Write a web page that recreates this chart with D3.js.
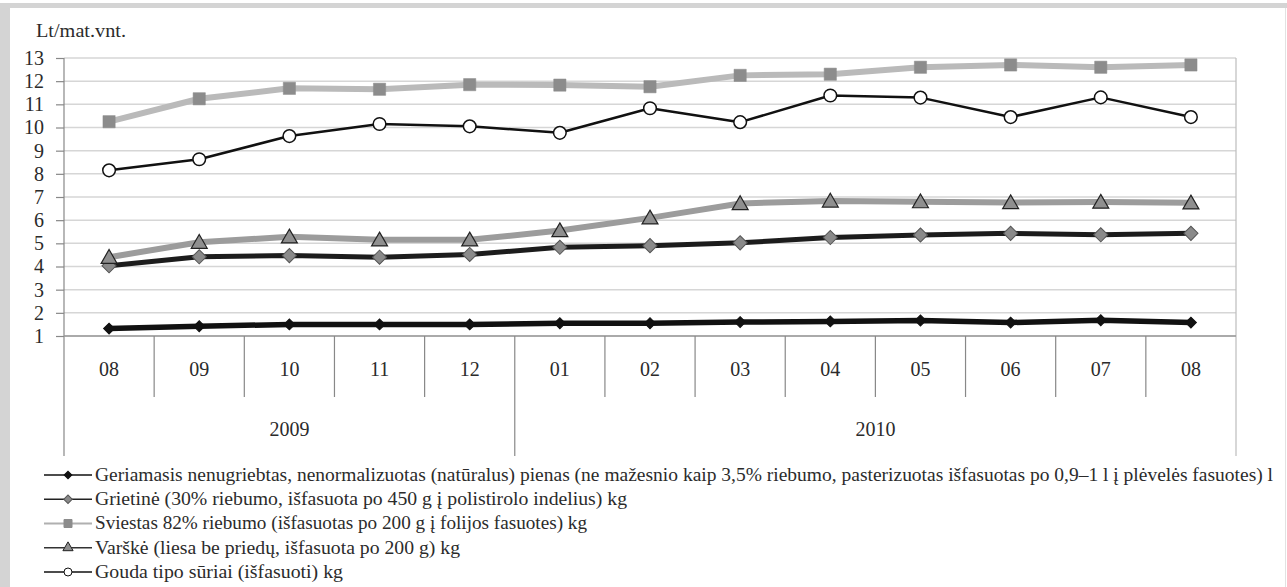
<!DOCTYPE html>
<html><head><meta charset="utf-8">
<script src="https://cdn.jsdelivr.net/npm/d3@7"></script>
<style>html,body{margin:0;padding:0;background:#fff;}svg{display:block;}</style>
</head><body>
<svg id="c" width="1287" height="587"></svg>
<script>
const categories = ["08","09","10","11","12","01","02","03","04","05","06","07","08"];
const years = ["2009","2010"];
const yearCounts = [5, 8];
const yTicks = [1,2,3,4,5,6,7,8,9,10,11,12,13];
const unitLabel = "Lt/mat.vnt.";

const milk     = [1.32,1.42,1.50,1.50,1.50,1.55,1.55,1.60,1.63,1.67,1.58,1.68,1.58];
const grietine = [4.03,4.42,4.47,4.40,4.52,4.83,4.90,5.02,5.25,5.36,5.43,5.37,5.43];
const sviestas = [10.25,11.24,11.69,11.65,11.85,11.83,11.76,12.25,12.30,12.60,12.70,12.60,12.70];
const varske   = [4.40,5.05,5.28,5.15,5.15,5.55,6.10,6.72,6.83,6.80,6.76,6.78,6.75];
const gouda    = [8.15,8.63,9.63,10.15,10.05,9.77,10.83,10.23,11.38,11.29,10.45,11.30,10.45];

const seriesNames = [
  "Geriamasis nenugriebtas, nenormalizuotas (natūralus) pienas (ne mažesnio kaip 3,5% riebumo, pasterizuotas išfasuotas po 0,9–1 l į plėvelės fasuotes) l",
  "Grietinė (30% riebumo, išfasuota po 450 g į polistirolo indelius) kg",
  "Sviestas 82% riebumo (išfasuotas po 200 g į folijos fasuotes) kg",
  "Varškė (liesa be priedų, išfasuota po 200 g) kg",
  "Gouda tipo sūriai (išfasuoti) kg"
];
const seriesValues = [milk, grietine, sviestas, varske, gouda];

// styles (not data)
const FONT = "'Liberation Serif', 'DejaVu Serif', 'Times New Roman', serif";
const TXT = "#2b2b2b";
const styles = [
  {line:"#111", lw:5.5, sym:"diamond", size:60, fill:"#111", stroke:"#111", sw:1, lsize:30},
  {line:"#1c1c1c", lw:5, sym:"diamond", size:100, fill:"#8a8a8a", stroke:"#555", sw:1, lsize:36},
  {line:"#bababa", lw:6, sym:"square", size:150, fill:"#8c8c8c", stroke:"#8c8c8c", sw:0.5, lsize:64},
  {line:"#9c9c9c", lw:6, sym:"triangle", size:110, fill:"#8f8f8f", stroke:"#222", sw:1.2, lsize:45},
  {line:"#111", lw:2.5, sym:"circle", size:125, fill:"#fff", stroke:"#111", sw:1.5, lsize:50}
];
const legendLineColors = ["#111","#222","#b0b0b0","#333","#111"];
const legendWidths = [1178, 532, 492, 365, 248];

const svg = d3.select("#c").style("font-family", FONT);
// frame
svg.append("rect").attr("x",0).attr("y",0).attr("width",1287).attr("height",587).attr("fill","#fff");
svg.append("rect").attr("x",0).attr("y",3).attr("width",1287).attr("height",5).attr("fill","#d4d4d4");
svg.append("rect").attr("x",0).attr("y",3).attr("width",10).attr("height",584).attr("fill","#d4d4d4");
svg.append("line").attr("x1",1285.5).attr("x2",1285.5).attr("y1",8).attr("y2",587).attr("stroke","#e2e2e2");

const L = 64, R = 1236, T = 58, B = 336;
const x = d3.scaleBand().domain(d3.range(categories.length)).range([L, R]);
const y = d3.scaleLinear().domain([1, 13]).range([B, T]);
const bw = x.bandwidth();
const cx = i => x(i) + bw/2;

// gridlines
svg.append("g").selectAll("line").data(yTicks).join("line")
  .attr("x1", L).attr("x2", R).attr("y1", d=>y(d)).attr("y2", d=>y(d))
  .attr("stroke", "#d6d6d6").attr("stroke-width", 1.5);
// right edge of plot
svg.append("line").attr("x1",R).attr("x2",R).attr("y1",T).attr("y2",456).attr("stroke","#bdbdbd").attr("stroke-width",1.2);

// y axis
const yAxis = svg.append("g").attr("transform", `translate(${L},0)`)
  .call(d3.axisLeft(y).tickValues(yTicks).tickSize(8).tickPadding(12).tickFormat(d3.format("d")));
yAxis.attr("font-family", null).style("font-family", FONT);
yAxis.select(".domain").remove();
yAxis.selectAll(".tick line").attr("stroke","#888").attr("stroke-width",1.2);
yAxis.selectAll(".tick text").attr("font-size", 20).attr("fill",TXT).style("font-family", FONT);
svg.append("line").attr("x1",L).attr("x2",L).attr("y1",T).attr("y2",456).attr("stroke","#888").attr("stroke-width",1.2);
// x axis baseline
svg.append("line").attr("x1",L).attr("x2",R).attr("y1",B).attr("y2",B).attr("stroke","#999").attr("stroke-width",1.5);

// month labels via axis
const xAxis = svg.append("g").attr("transform", `translate(0,${B})`)
  .call(d3.axisBottom(x).tickSize(0).tickPadding(25).tickFormat(i => categories[i]));
xAxis.attr("font-family", null).style("font-family", FONT);
xAxis.select(".domain").remove();
xAxis.selectAll(".tick text").attr("font-size", 20).attr("fill",TXT).attr("dy","0.32em").attr("y", 34).style("font-family", FONT);

// separators
const yearStarts = [0];
yearCounts.forEach((c,k)=>yearStarts.push(yearStarts[k]+c));
const boundaries = d3.range(1, categories.length);
svg.append("g").selectAll("line").data(boundaries).join("line")
  .attr("x1", i=>x(i)).attr("x2", i=>x(i)).attr("y1", B)
  .attr("y2", i => yearStarts.includes(i) ? 456 : 397)
  .attr("stroke","#888").attr("stroke-width",1.2);

// year labels
svg.append("g").selectAll("text").data(years).join("text")
  .attr("x", (d,k) => (x(yearStarts[k]) + (yearStarts[k+1] < categories.length ? x(yearStarts[k+1]) : R))/2)
  .attr("y", 430).attr("dy","0.32em").attr("text-anchor","middle").attr("font-size",20)
  .attr("fill",TXT).style("font-family", FONT).text(d=>d);

// unit label
svg.append("text").attr("x", 36).attr("y", 37).attr("font-size", 19).attr("fill",TXT)
  .attr("textLength", 90).attr("lengthAdjust","spacingAndGlyphs").style("font-family", FONT).text(unitLabel);

function symPath(st, size){
  if (st.sym === "diamond") return d3.symbol(d3.symbolSquare, size)();
  if (st.sym === "square") return d3.symbol(d3.symbolSquare, size)();
  if (st.sym === "triangle") return d3.symbol(d3.symbolTriangle, size)();
  return d3.symbol(d3.symbolCircle, size)();
}
const line = d3.line().x((v,i)=>cx(i)).y(v=>y(v));

seriesValues.forEach((vals, s) => {
  const st = styles[s];
  const g = svg.append("g");
  g.append("path").datum(vals).attr("d", line).attr("fill","none")
    .attr("stroke", st.line).attr("stroke-width", st.lw).attr("stroke-linejoin","round");
  g.selectAll("path.m").data(vals).join("path").attr("class","m")
    .attr("d", symPath(st, st.size))
    .attr("transform", (v,i)=>`translate(${cx(i)},${y(v)})` + (st.sym==="diamond" ? " rotate(45)" : "") + (st.sym==="triangle" ? " translate(0,1.5)" : ""))
    .attr("fill", st.fill).attr("stroke", st.stroke).attr("stroke-width", st.sw);
});

// legend
const legY = d3.scaleLinear().domain([0, 4]).range([475, 572]);
seriesNames.forEach((name, s) => {
  const st = styles[s];
  const yy = legY(s);
  const g = svg.append("g");
  g.append("line").attr("x1",44).attr("x2",92).attr("y1",yy).attr("y2",yy)
    .attr("stroke", legendLineColors[s]).attr("stroke-width", s===2 ? 2 : 1.6);
  g.append("path").attr("d", symPath(st, st.lsize))
    .attr("transform", `translate(68,${yy})` + (st.sym==="diamond" ? " rotate(45)" : ""))
    .attr("fill", st.fill).attr("stroke", st.stroke).attr("stroke-width", 1);
  g.append("text").attr("x", 95).attr("y", yy).attr("dy","0.32em").attr("font-size", 18.5)
    .attr("fill", TXT).style("font-family", FONT)
    .attr("textLength", legendWidths[s]).attr("lengthAdjust","spacingAndGlyphs").text(name);
});
</script>
</body></html>
